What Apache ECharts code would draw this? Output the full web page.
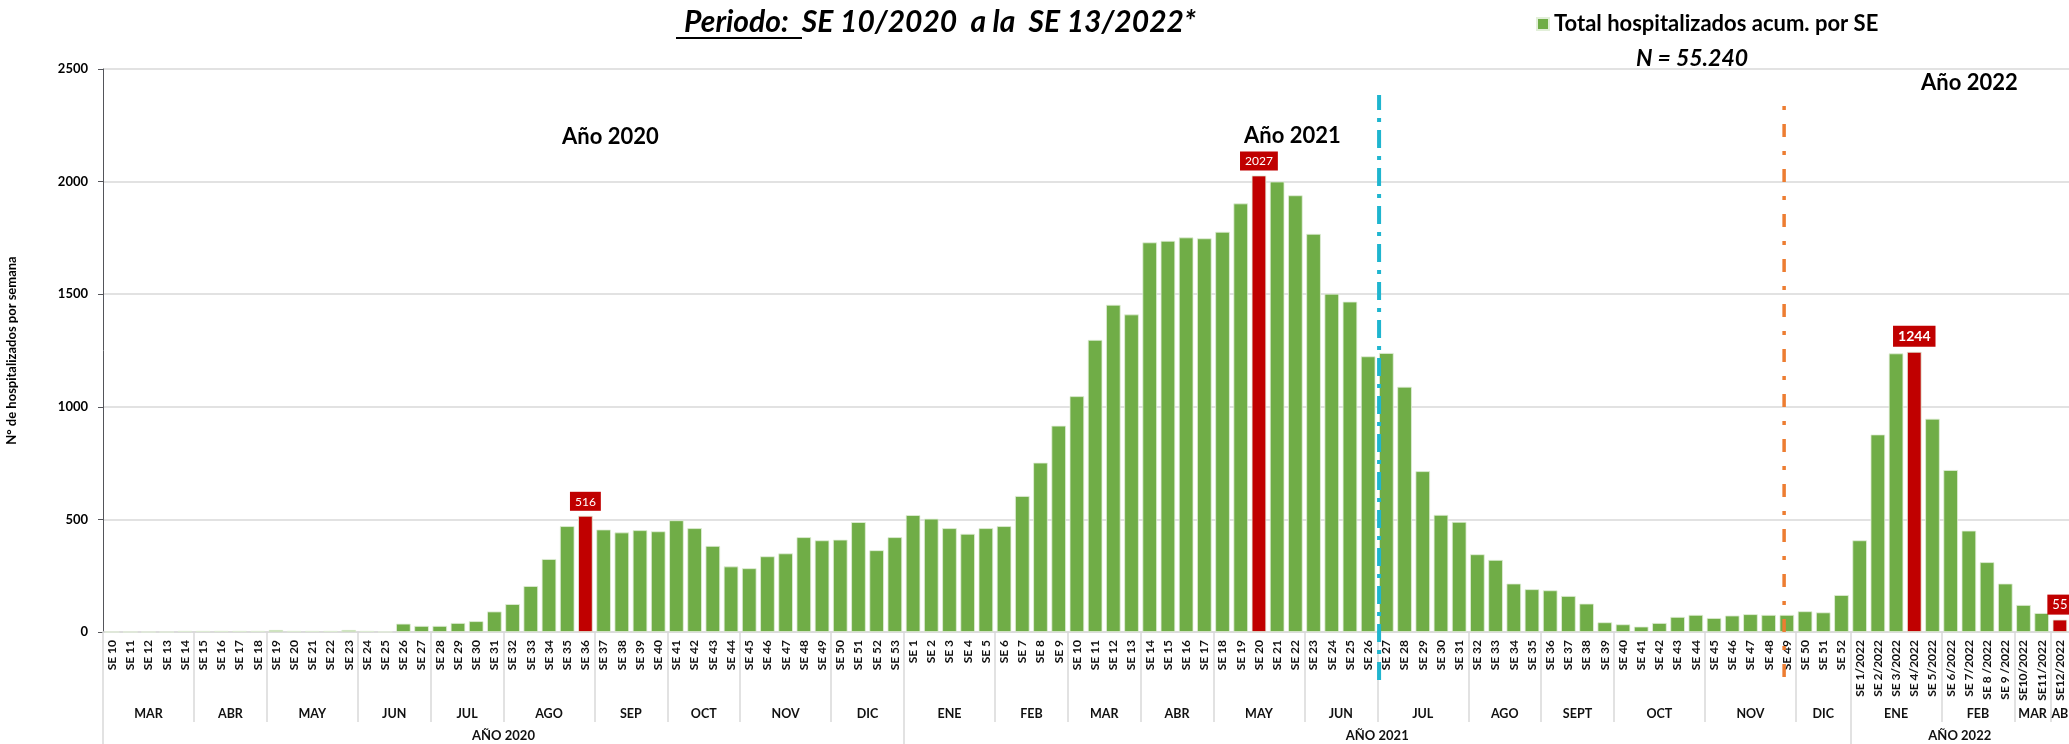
<!DOCTYPE html>
<html>

<head>
    <meta charset="UTF-8">
    <title>Hospitalizados por SE</title>
    <script src="https://cdn.jsdelivr.net/npm/echarts@6.0.0/dist/echarts.min.js"></script>
    <style>
        body {
            margin: 0;
            background: #fff;
        }

        #chart {
            width: 2069px;
            height: 744px;
        }
    </style>
</head>

<body>
    <div id="chart"></div>
    <script>
        // semanas epidemiologicas
        const weeks2020 = ['SE 10', 'SE 11', 'SE 12', 'SE 13', 'SE 14', 'SE 15', 'SE 16', 'SE 17', 'SE 18', 'SE 19',
            'SE 20', 'SE 21', 'SE 22', 'SE 23', 'SE 24', 'SE 25', 'SE 26', 'SE 27', 'SE 28', 'SE 29', 'SE 30',
            'SE 31', 'SE 32', 'SE 33', 'SE 34', 'SE 35', 'SE 36', 'SE 37', 'SE 38', 'SE 39', 'SE 40', 'SE 41',
            'SE 42', 'SE 43', 'SE 44', 'SE 45', 'SE 46', 'SE 47', 'SE 48', 'SE 49', 'SE 50', 'SE 51', 'SE 52', 'SE 53'];
        const weeks2021 = ['SE 1', 'SE 2', 'SE 3', 'SE 4', 'SE 5', 'SE 6', 'SE 7', 'SE 8', 'SE 9', 'SE 10', 'SE 11',
            'SE 12', 'SE 13', 'SE 14', 'SE 15', 'SE 16', 'SE 17', 'SE 18', 'SE 19', 'SE 20', 'SE 21', 'SE 22',
            'SE 23', 'SE 24', 'SE 25', 'SE 26', 'SE 27', 'SE 28', 'SE 29', 'SE 30', 'SE 31', 'SE 32', 'SE 33',
            'SE 34', 'SE 35', 'SE 36', 'SE 37', 'SE 38', 'SE 39', 'SE 40', 'SE 41', 'SE 42', 'SE 43', 'SE 44',
            'SE 45', 'SE 46', 'SE 47', 'SE 48', 'SE 49', 'SE 50', 'SE 51', 'SE 52'];
        const weeks2022 = ['SE 1/2022', 'SE 2/2022', 'SE 3/2022', 'SE 4/2022', 'SE 5/2022', 'SE 6/2022', 'SE 7/2022',
            'SE 8 /2022', 'SE 9 /2022', 'SE10/2022', 'SE11/2022', 'SE12/2022'];

        // hospitalizados por semana
        const hosp2020 = [0, 0, 0, 0, 5, 5, 5, 5, 5, 9, 5, 5, 5, 9, 5, 1, 37, 27, 27, 40, 48, 91, 124, 204, 324, 470,
            516, 455, 442, 452, 447, 496, 461, 382, 291, 283, 336, 349, 421, 407, 410, 488, 363, 421];
        const hosp2021 = [519, 503, 461, 436, 461, 470, 604, 752, 916, 1047, 1297, 1453, 1410, 1730, 1737, 1752, 1748,
            1777, 1903, 2027, 2000, 1939, 1768, 1502, 1467, 1224, 1239, 1089, 714, 520, 489, 345, 320, 215, 190, 185,
            160, 126, 43, 34, 24, 40, 67, 76, 62, 73, 79, 76, 76, 92, 87, 164];
        const hosp2022 = [407, 877, 1237, 1244, 947, 719, 450, 310, 215, 120, 84, 55];

        // meses y años (cantidad de semanas en cada grupo)
        const months2020 = ['MAR', 'ABR', 'MAY', 'JUN', 'JUL', 'AGO', 'SEP', 'OCT', 'NOV', 'DIC'];
        const monthSizes2020 = [5, 4, 5, 4, 4, 5, 4, 4, 5, 4];
        const months2021 = ['ENE', 'FEB', 'MAR', 'ABR', 'MAY', 'JUN', 'JUL', 'AGO', 'SEPT', 'OCT', 'NOV', 'DIC'];
        const monthSizes2021 = [5, 4, 4, 4, 5, 4, 5, 4, 4, 5, 5, 3];
        const months2022 = ['ENE', 'FEB', 'MAR', 'ABR'];
        const monthSizes2022 = [5, 4, 2, 1];
        const years = ['AÑO 2020', 'AÑO 2021', 'AÑO 2022'];
        const yearSizes = [44, 52, 12];

        // barras destacadas (indice en el eje)
        const peaks = [26, 63, 99, 107];

        // lineas de corte: [posicion en semanas, desde, hasta]
        const cutCyan = [70.1, -213, 2384];
        const cutOrange = [92.35, -200, 2398];

        const weeks = weeks2020.concat(weeks2021, weeks2022);
        const values = hosp2020.concat(hosp2021, hosp2022);
        const months = months2020.concat(months2021, months2022);
        const monthSizes = monthSizes2020.concat(monthSizes2021, monthSizes2022);

        function edges(sizes) {
            const out = [0];
            let pos = 0;
            sizes.forEach(s => { pos += s; out.push(pos); });
            return out;
        }
        function centers(sizes, names) {
            const e = edges(sizes);
            const map = {};
            sizes.forEach((s, i) => { map[e[i] + s / 2] = names[i]; });
            return map;
        }
        const monthEdges = edges(monthSizes).slice(0, -1);
        const yearEdges = edges(yearSizes).slice(0, -1);
        const monthLabels = centers(monthSizes, months);
        const yearLabels = centers(yearSizes, years);
        const lastMonth = weeks.length - monthSizes[monthSizes.length - 1] / 2;

        const FONT = 'Lato';
        const GREEN = '#70AD47';
        const RED = '#C00000';
        const SEP = '#d9d9d9';

        const peakLabel = {
            26: { fontSize: 12 },
            63: { fontSize: 12 },
            99: { fontSize: 14, fontWeight: 'bold' },
            107: { fontSize: 13 }
        };

        const chart = echarts.init(document.getElementById('chart'));

        const groupAxis = (edgesArr, labels, tickLen, margin, fontSize) => ({
            type: 'value',
            gridIndex: 0,
            position: 'bottom',
            min: 0,
            max: weeks.length,
            axisLine: { show: false },
            splitLine: { show: false },
            axisTick: {
                show: true,
                customValues: edgesArr,
                length: tickLen,
                lineStyle: { color: SEP, width: 1.5 }
            },
            axisLabel: {
                customValues: Object.keys(labels).map(Number),
                // el ultimo mes queda cortado en el borde derecho
                formatter: v => labels[v] ? (v === lastMonth ? '{edge|' + labels[v] + '}' : labels[v]) : '',
                margin: margin,
                fontFamily: FONT,
                fontWeight: 'bold',
                fontSize: fontSize,
                color: '#111',
                rich: {
                    edge: { padding: [0, 0, 0, 8], fontFamily: FONT, fontWeight: 'bold', fontSize: fontSize, color: '#111' }
                }
            }
        });

        chart.setOption({
            animation: false,
            textStyle: { fontFamily: FONT },
            grid: { left: 103, right: 0, top: 69, bottom: 112, outerBoundsMode: 'none' },
            legend: {
                data: ['Total hospitalizados acum. por SE'],
                left: 1531,
                top: 8,
                icon: 'rect',
                itemWidth: 12,
                itemHeight: 12,
                itemGap: 6,
                textStyle: { fontFamily: FONT, fontWeight: 'bold', fontSize: 22, color: '#000' }
            },
            xAxis: [
                {
                    type: 'category',
                    data: weeks,
                    axisLine: { lineStyle: { color: SEP, width: 1.5 } },
                    axisTick: { show: false },
                    axisLabel: {
                        interval: 0,
                        rotate: 90,
                        margin: 8,
                        fontFamily: FONT,
                        fontWeight: 'bold',
                        fontSize: 12,
                        color: '#111'
                    }
                },
                groupAxis(monthEdges, monthLabels, 90, 75, 12.5),
                groupAxis(yearEdges, yearLabels, 112, 97, 13)
            ],
            yAxis: {
                type: 'value',
                min: 0,
                max: 2500,
                interval: 500,
                name: 'N° de hospitalizados por semana',
                nameLocation: 'middle',
                nameRotate: 90,
                nameGap: 85,
                nameTextStyle: { fontFamily: FONT, fontWeight: 'bold', fontSize: 13, color: '#000' },
                axisLabel: {
                    formatter: v => String(v),
                    fontFamily: FONT, fontWeight: 'bold', fontSize: 13, color: '#000', margin: 15
                },
                splitLine: { lineStyle: { color: SEP, width: 1.5 } }
            },
            series: [
                {
                    name: 'Total hospitalizados acum. por SE',
                    type: 'bar',
                    barCategoryGap: '20%',
                    itemStyle: { color: GREEN, borderColor: '#e2efd9', borderWidth: 0.8 },
                    label: {
                        position: 'top',
                        distance: 5,
                        backgroundColor: RED,
                        color: '#fff',
                        padding: [4, 5, 3, 5],
                        fontFamily: FONT
                    },
                    data: values.map((v, i) => peaks.includes(i)
                        ? { value: v, itemStyle: { color: RED }, label: Object.assign({ show: true }, peakLabel[i]) }
                        : v)
                },
                {
                    type: 'line',
                    xAxisIndex: 1,
                    clip: false,
                    silent: true,
                    symbol: 'none',
                    z: 5,
                    lineStyle: { color: '#1FB5CF', width: 4, type: [18, 8, 4, 8] },
                    data: [[cutCyan[0], cutCyan[1]], [cutCyan[0], cutCyan[2]]]
                },
                {
                    type: 'line',
                    xAxisIndex: 1,
                    clip: false,
                    silent: true,
                    symbol: 'none',
                    z: 5,
                    lineStyle: { color: '#ED7D31', width: 3.5, type: [13, 14, 4, 14] },
                    data: [[cutOrange[0], cutOrange[1]], [cutOrange[0], cutOrange[2]]]
                }
            ],
            graphic: [
                {
                    type: 'text', x: 684, y: 22,
                    style: {
                        text: 'Periodo:  SE 10/2020  a la  SE 13/2022*', fill: '#000',
                        fontFamily: FONT, fontStyle: 'italic', fontWeight: 'bold', fontSize: 30, verticalAlign: 'middle'
                    }
                },
                { type: 'line', shape: { x1: 676, y1: 38, x2: 802, y2: 38 }, style: { stroke: '#000', lineWidth: 2 } },
                {
                    type: 'text', x: 1636, y: 59,
                    style: {
                        text: 'N = 55.240', fill: '#000', fontFamily: FONT, fontStyle: 'italic',
                        fontWeight: 'bold', fontSize: 23, verticalAlign: 'middle'
                    }
                },
                {
                    type: 'text', x: 562, y: 137,
                    style: { text: 'Año 2020', fill: '#000', fontFamily: FONT, fontWeight: 'bold', fontSize: 22, verticalAlign: 'middle' }
                },
                {
                    type: 'text', x: 1244, y: 136,
                    style: { text: 'Año 2021', fill: '#000', fontFamily: FONT, fontWeight: 'bold', fontSize: 22, verticalAlign: 'middle' }
                },
                {
                    type: 'text', x: 1921, y: 83,
                    style: { text: 'Año 2022', fill: '#000', fontFamily: FONT, fontWeight: 'bold', fontSize: 22, verticalAlign: 'middle' }
                }
            ]
        });
    </script>
</body>

</html>
